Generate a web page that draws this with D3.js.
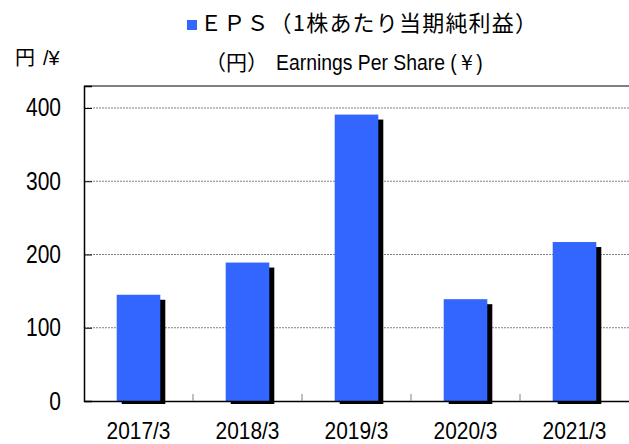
<!DOCTYPE html>
<html>
<head>
<meta charset="utf-8">
<script src="https://cdn.jsdelivr.net/npm/d3@7"></script>
<style>
body { margin: 0; background: #fff; }
.narrow { font-family: "Liberation Sans", Arial, sans-serif; }
.cjk { font-family: "Noto Sans CJK JP", sans-serif; }
</style>
</head>
<body>
<div id="chart"></div>
<script>
// EPS data
var categories = ["2017/3", "2018/3", "2019/3", "2020/3", "2021/3"];
var eps = [145, 189, 391, 139, 217];
var yTicks = [0, 100, 200, 300, 400];

var W = 629, H = 444;
var mLeft = 84, mRight = 629, mTop = 86, mBottom = 401;

var svg = d3.select("#chart").append("svg").attr("width", W).attr("height", H);

var x = d3.scaleBand().domain(categories).range([mLeft, mRight]).paddingInner(0.6).paddingOuter(0.3);
var y = d3.scaleLinear().domain([0, 430]).range([mBottom, mTop]);

// squeeze a text horizontally, like a narrow font
function narrow(sel, k) {
  sel.each(function() {
    var len = this.getComputedTextLength();
    d3.select(this).attr("textLength", len * k).attr("lengthAdjust", "spacingAndGlyphs");
  });
}

//gridlines
svg.selectAll(".grid").data(yTicks.slice(1)).enter().append("line")
  .attr("x1", mLeft).attr("x2", mRight)
  .attr("y1", function(d) { return y(d); }).attr("y2", function(d) { return y(d); })
  .attr("stroke", "#808080").attr("stroke-width", 1).attr("stroke-dasharray", "2,1");

//top frame line
svg.append("line").attr("x1", mLeft).attr("x2", mRight).attr("y1", mTop).attr("y2", mTop)
  .attr("stroke", "#808080").attr("stroke-width", 2);

//shadows then bars
svg.selectAll(".shadow").data(eps).enter().append("rect")
  .attr("x", function(d, i) { return x(categories[i]) + 5; })
  .attr("y", function(d) { return y(d) + 5; })
  .attr("width", x.bandwidth())
  .attr("height", function(d) { return y(0) - y(d) - 2; })
  .attr("fill", "#000");

svg.selectAll(".bar").data(eps).enter().append("rect")
  .attr("x", function(d, i) { return x(categories[i]); })
  .attr("y", function(d) { return y(d); })
  .attr("width", x.bandwidth())
  .attr("height", function(d) { return y(0) - y(d); })
  .attr("fill", "#3366FF");

//axes
var yAxis = d3.axisLeft(y).tickValues(yTicks).tickSize(-8).tickPadding(23);
var gy = svg.append("g").attr("transform", "translate(" + mLeft + ",0)").call(yAxis);
gy.select(".domain").attr("stroke", "#000").attr("stroke-width", 1.5);
gy.selectAll(".tick line").attr("stroke", "#000").attr("stroke-width", 1);
gy.selectAll("text").attr("class", "narrow").attr("font-size", 25).attr("fill", "#000").call(narrow, 0.84);

var xAxis = d3.axisBottom(x).tickSize(0).tickPadding(21);
var gx = svg.append("g").attr("transform", "translate(0," + mBottom + ")").call(xAxis);
gx.select(".domain").attr("stroke", "#000").attr("stroke-width", 1.5);
gx.selectAll("text").attr("class", "narrow").attr("font-size", 24).attr("fill", "#000").call(narrow, 0.87);

//category separator ticks
var seps = categories.slice(1);
svg.selectAll(".sep").data(seps).enter().append("line")
  .attr("x1", function(d) { return x(d) - x.step() * x.paddingInner() / 2; })
  .attr("x2", function(d) { return x(d) - x.step() * x.paddingInner() / 2; })
  .attr("y1", mBottom).attr("y2", mBottom - 7)
  .attr("stroke", "#808080").attr("stroke-width", 1);

//titles
svg.append("rect").attr("x", 187).attr("y", 20).attr("width", 10).attr("height", 10).attr("fill", "#3366FF");
svg.append("text").attr("class", "cjk").attr("x", 200).attr("y", 31).attr("font-size", 22).attr("letter-spacing", 1.2)
  .attr("fill", "#000").text("ＥＰＳ（1株あたり当期純利益）");

svg.append("text").attr("class", "cjk").attr("x", 205).attr("y", 70).attr("font-size", 21).attr("fill", "#000").text("（円）");
svg.append("text").attr("class", "narrow").attr("x", 276).attr("y", 70).attr("font-size", 22).attr("fill", "#000")
  .text("Earnings Per Share (￥)").call(narrow, 0.88);

svg.append("text").attr("class", "cjk").attr("x", 15).attr("y", 65).attr("font-size", 20).attr("fill", "#000").text("円");
svg.append("text").attr("class", "narrow").attr("x", 43).attr("y", 65).attr("font-size", 20).attr("fill", "#000").text("/¥");
</script>
</body>
</html>
